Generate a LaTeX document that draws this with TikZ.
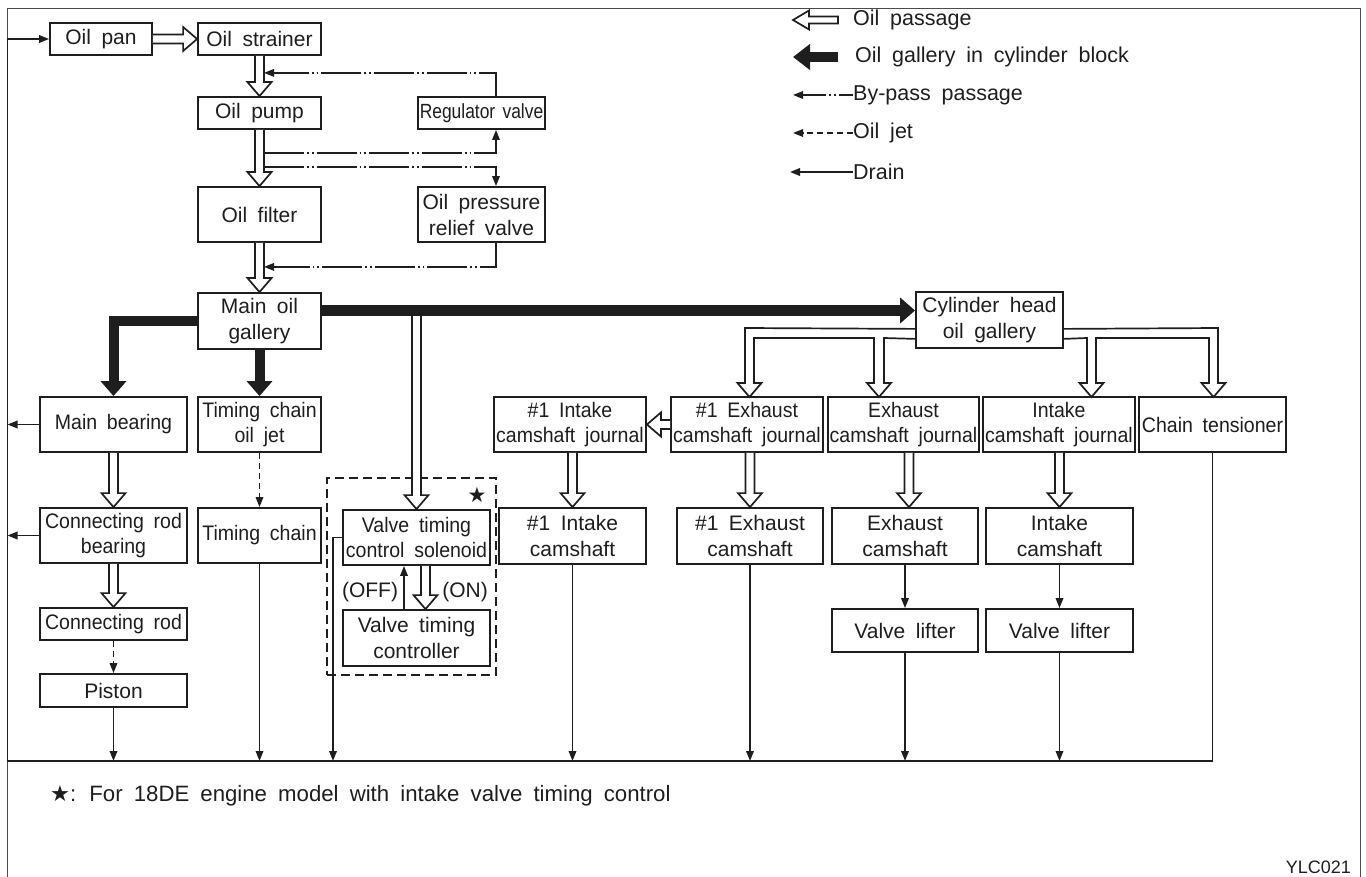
\documentclass[tikz,border=0pt]{standalone}
\usepackage{fontspec}
\setmainfont[WordSpace=1.8]{Liberation Sans}
\newfontfamily\narrowfam[WordSpace=1.8,FakeStretch=0.93]{Liberation Sans}
\newfontfamily\regfam[WordSpace=1.5,FakeStretch=0.85]{Liberation Sans}
\newfontfamily\symfnt{DejaVu Sans}
\usetikzlibrary{arrows.meta,calc}
\definecolor{ink}{HTML}{1E1E1E}
\newcommand\bigfnt{\fontsize{21}{26}\selectfont}
\newcommand\smallfnt{\narrowfam\fontsize{21}{25}\selectfont}
\newcommand\regfnt{\regfam\fontsize{20.5}{25}\selectfont}
\tikzset{
  box/.style={draw=ink,line width=1.8,fill=white,inner sep=0pt,align=center,text=ink},
  bigtxt/.style={font=\bigfnt},
  smalltxt/.style={font=\smallfnt},
  regtxt/.style={font=\regfnt},
  tip/.style={-{Triangle[length=10pt,width=7.5pt]}},
  drain/.style={draw=ink,line width=1.8,tip},
  bypass/.style={draw=ink,line width=1.6,dash pattern=on 40pt off 3pt on 1.8pt off 3pt on 1.8pt off 3pt,tip},
  jet/.style={draw=ink,line width=1.6,dash pattern=on 6pt off 4pt,tip},
  hollow/.style={draw=ink,line width=1.7,fill=white,line join=miter},
  channel/.style={draw=ink,line width=1.7,line join=miter},
  gal/.style={draw=ink,line width=10,line join=miter,-{Triangle[length=15pt,width=25pt]}},
  frameline/.style={draw=ink!80,line width=1.3},
  vtcbox/.style={draw=ink,line width=1.7,dash pattern=on 9pt off 5pt},
  legtext/.style={anchor=west,inner sep=0pt,text=ink,font=\fontsize{21.5}{24}\selectfont},
}
\newcommand\bx[7][]{\node[box,#1,minimum width={#5-#3},minimum height={#6-#4}] (#2) at ({(#3+#5)/2},{(#4+#6)/2}) {#7};}
\newcommand\hdown[2]{\draw[hollow] ($(#1)+(-4.5,0)$) -- ($(#2)+(-4.5,-14)$) -- ($(#2)+(-12,-14)$) -- (#2) -- ($(#2)+(12,-14)$) -- ($(#2)+(4.5,-14)$) -- ($(#1)+(4.5,0)$);}
\newcommand\hright[2]{\draw[hollow] ($(#1)+(0,-4.5)$) -- ($(#2)+(-14,-4.5)$) -- ($(#2)+(-14,-12)$) -- (#2) -- ($(#2)+(-14,12)$) -- ($(#2)+(-14,4.5)$) -- ($(#1)+(0,4.5)$);}
\newcommand\hleft[2]{\draw[hollow] ($(#1)+(0,-4.5)$) -- ($(#2)+(14,-4.5)$) -- ($(#2)+(14,-12)$) -- (#2) -- ($(#2)+(14,12)$) -- ($(#2)+(14,4.5)$) -- ($(#1)+(0,4.5)$);}
\begin{document}
\begin{tikzpicture}[x=1pt,y=-1pt]
\useasboundingbox (0,0) rectangle (1366,877);
\fill[white] (0,0) rectangle (1366,877);
\draw[frameline] (7.5,877) -- (7.5,8.5) -- (1360.5,8.5) -- (1360.5,877);
\node[vtcbox,minimum width=169,minimum height=197,inner sep=0] (vtc) at (411.5,576.5) {};
% boxes
\bx[bigtxt]{pan}{50}{23}{152}{55}{Oil pan}
\bx[bigtxt]{strainer}{198}{23}{321}{55}{Oil strainer}
\bx[bigtxt]{pump}{198}{97}{321}{129}{Oil pump}
\bx[regtxt]{regulator}{418}{97}{545}{129}{Regulator valve}
\bx[bigtxt]{filter}{198}{187}{321}{242}{Oil filter}
\bx[bigtxt]{relief}{418}{187}{545}{242}{Oil pressure\\relief valve}
\bx[bigtxt]{gallery}{198}{293}{321}{349}{Main oil\\gallery}
\bx[bigtxt]{chead}{916}{292}{1063}{348}{Cylinder head\\oil gallery}
\bx[smalltxt]{mainbear}{40}{397}{187}{452}{Main bearing}
\bx[smalltxt]{tcjet}{198}{397}{321}{452}{Timing chain\\oil jet}
\bx[smalltxt]{ij1}{494}{397}{646}{452}{\#1 Intake\\camshaft journal}
\bx[smalltxt]{ej1}{671}{397}{823}{452}{\#1 Exhaust\\camshaft journal}
\bx[smalltxt]{ej}{828}{397}{979}{452}{Exhaust\\camshaft journal}
\bx[smalltxt]{ij}{983}{397}{1135}{452}{Intake\\camshaft journal}
\bx[smalltxt]{tens}{1139}{397}{1286}{452}{Chain tensioner}
\bx[smalltxt]{crbear}{40}{508}{187}{563}{Connecting rod\\bearing}
\bx[smalltxt]{tchain}{198}{508}{321}{563}{Timing chain}
\bx[smalltxt]{sol}{343}{510}{490}{565}{Valve timing\\control solenoid}
\bx[bigtxt]{ctrl}{343}{610}{490}{666}{Valve timing\\controller}
\bx[bigtxt]{ic1}{499}{508}{646}{564}{\#1 Intake\\camshaft}
\bx[bigtxt]{ec1}{677}{508}{823}{564}{\#1 Exhaust\\camshaft}
\bx[bigtxt]{ec}{832}{508}{978}{564}{Exhaust\\camshaft}
\bx[bigtxt]{ic}{986}{508}{1133}{564}{Intake\\camshaft}
\bx[bigtxt]{lift1}{832}{609}{978}{652}{Valve lifter}
\bx[bigtxt]{lift2}{986}{609}{1133}{652}{Valve lifter}
\bx[smalltxt]{crod}{40}{608}{187}{640}{Connecting rod}
\bx[bigtxt]{piston}{40}{674}{187}{707}{Piston}
\node[text=ink,font=\symfnt\fontsize{21}{21}\selectfont,inner sep=0] (star) at (477,495) {★};
\node[text=ink,font=\fontsize{21}{24}\selectfont,inner sep=0] (off) at (370,592) {(OFF)};
\node[text=ink,font=\fontsize{21}{24}\selectfont,inner sep=0] (on) at (465,592) {(ON)};
% drains
\coordinate (bl) at (7.5,761);
\draw[drain] (tens.south) |- (bl) |- (pan.west);
\draw[drain] (piston.south) -- (piston.south |- bl);
\draw[drain] (tchain.south) -- (tchain.south |- bl);
\coordinate (solx) at (333,761);
\draw[drain] (sol.west) -| (solx);
\draw[drain] (ic1.south) -- (ic1.south |- bl);
\draw[drain] (ec1.south) -- (ec1.south |- bl);
\draw[drain] (ec.south) -- (lift1.north);
\draw[drain] (lift1.south) -- (lift1.south |- bl);
\draw[drain] (ic.south) -- (lift2.north);
\draw[drain] (lift2.south) -- (lift2.south |- bl);
\draw[drain] (mainbear.west) -- (mainbear.west -| bl);
\draw[drain] (crbear.west) -- (crbear.west -| bl);
\draw[jet] (tcjet.south) -- (tchain.north);
\draw[jet] (crod.south) -- (piston.north);
\coordinate (offx) at (404,0);
\draw[drain] (ctrl.north -| offx) -- (sol.south -| offx);
% hollow passages
\hright{pan.east}{strainer.west}
\hdown{strainer.south}{pump.north}
\hdown{pump.south}{filter.north}
\hdown{filter.south}{gallery.north}
\hdown{mainbear.south}{crbear.north}
\hdown{crbear.south}{crod.north}
\hleft{ej1.west}{ij1.east}
\coordinate (j1) at (ic1.north |- ij1.south);
\hdown{j1}{ic1.north}
\coordinate (j2) at (ec1.north |- ej1.south);
\hdown{j2}{ec1.north}
\coordinate (x3) at (909,0);
\coordinate (j3a) at (ej.south -| x3);
\coordinate (j3b) at (ec.north -| x3);
\hdown{j3a}{j3b}
\coordinate (j4) at (ic.north |- ij.south);
\hdown{j4}{ic.north}
\coordinate (onx) at (425.5,0);
\coordinate (on1) at (sol.south -| onx);
\coordinate (on2) at (ctrl.north -| onx);
\hdown{on1}{on2}
\coordinate (gy) at (0,310.5);
\coordinate (f1) at (sol.north |- gy);
\hdown{f1}{sol.north}
% by-pass
\coordinate (byx) at (496,0);
\coordinate (bp1) at ($(strainer.south)+(4.5,17)$);
\coordinate (bp2) at ($(pump.south)+(4.5,23)$);
\coordinate (bp3) at ($(pump.south)+(4.5,37)$);
\coordinate (bp4) at ($(filter.south)+(4.5,24)$);
\draw[bypass] (regulator.north -| byx) |- (bp1);
\draw[bypass] (bp2) -| (regulator.south -| byx);
\draw[bypass] (bp3) -| (relief.north -| byx);
\draw[bypass] (relief.south -| byx) |- (bp4);
% galleries in block
\draw[gal] (gallery.west) -| (mainbear.north);
\draw[gal] (gallery.south) -- (tcjet.north);
\draw[gal,line width=11] (gallery.east |- gy) -- (chead.west |- gy);
% cylinder head channels
\coordinate (cw1) at ($(chead.south west)+(0,-20)$);
\coordinate (cw2) at ($(chead.south west)+(0,-10)$);
\coordinate (ce1) at ($(chead.south east)+(0,-20)$);
\coordinate (ce2) at ($(chead.south east)+(0,-10)$);
\draw[channel] (cw1) -- (745,328) -- (745,383) -- (737.5,383) -- (749.5,397) -- (761.5,383) -- (754,383) -- (754,338) -- (874,338) -- (874,383) -- (867,383) -- (879,397) -- (891,383) -- (884,383) -- (884,338) -- (cw2);
\draw[channel] (ce1) -- (1218,328) -- (1218,383) -- (1225.5,383) -- (1213.5,397) -- (1201.5,383) -- (1209,383) -- (1209,338) -- (1096,338) -- (1096,383) -- (1103.5,383) -- (1091.5,397) -- (1079.5,383) -- (1087,383) -- (1087,338) -- (ce2);
% legend
\node[legtext] (l1) at (853,20) {Oil passage};
\node[legtext] (l2) at (855,57) {Oil gallery in cylinder block};
\node[legtext] (l3) at (853,95) {By-pass passage};
\node[legtext] (l4) at (853,133) {Oil jet};
\node[legtext] (l5) at (853,172) {Drain};
\draw[hollow] (838,16.5) -- (809,16.5) -- (809,10.5) -- (793,20) -- (809,29.5) -- (809,23.5) -- (838,23.5) -- cycle;
\draw[draw=ink,line width=10,-{Triangle[length=17pt,width=25pt]}] ($(l2.west)+(-17,0)$) -- ++(-45,0);
\draw[draw=ink,line width=1.6,tip,dash pattern=on 14pt off 3pt on 1.8pt off 3pt on 1.8pt off 3pt on 40pt] (l3.west) -- ++(-60,0);
\draw[jet] (l4.west) -- ++(-60,0);
\draw[drain] (l5.west) -- ++(-63,0);
% notes
\node[anchor=west,inner sep=0,text=ink,font=\fontsize{22.2}{24}\selectfont] (note) at (50,796) {{\symfnt ★}: For 18DE engine model with intake valve timing control};
\node[anchor=base east,inner sep=0,text=ink,font=\fontsize{18}{20}\selectfont] (code) at (1351,873) {YLC021};
\end{tikzpicture}
\end{document}
